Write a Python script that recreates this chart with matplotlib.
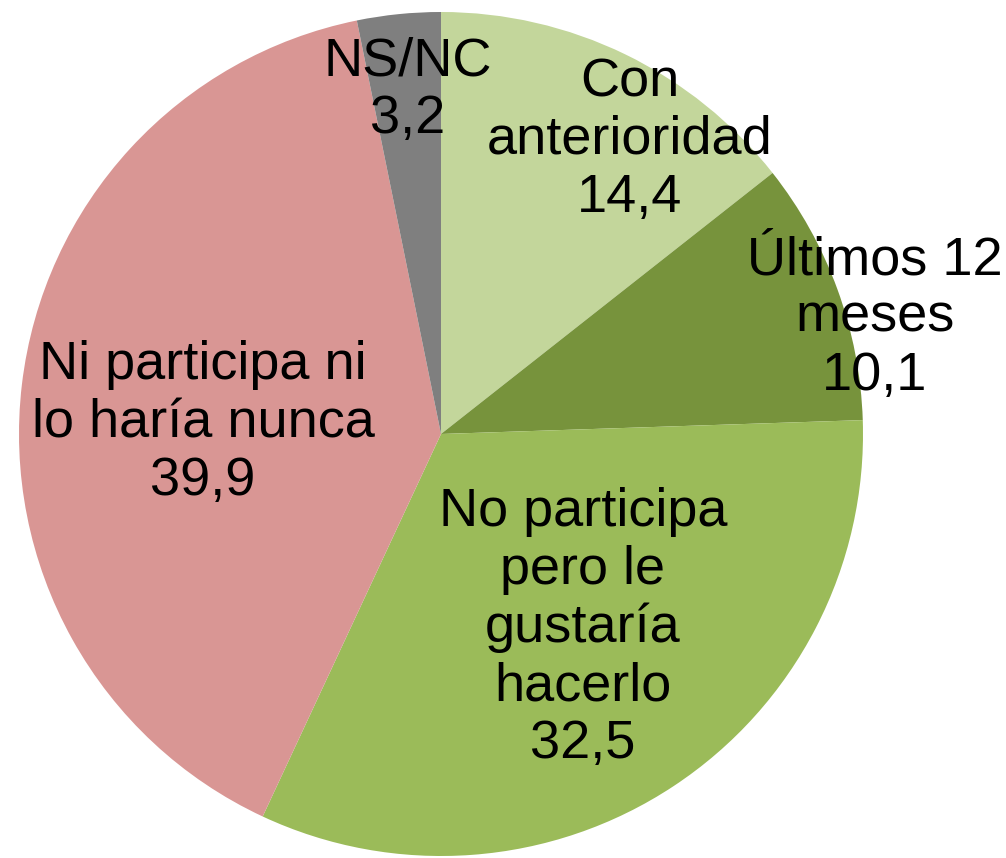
import matplotlib.pyplot as plt

plt.rcParams['font.family'] = ['Liberation Sans', 'DejaVu Sans']

labels = ["Con\nanterioridad", "Últimos 12\nmeses", "No participa\npero le\ngustaría\nhacerlo",
          "Ni participa ni\nlo haría nunca", "NS/NC"]
values = [14.4, 10.1, 32.5, 39.9, 3.2]
colors = ["#C3D69B", "#77933C", "#9BBB59", "#D99694", "#7F7F7F"]

# label centres (data coords, pie radius 1)
label_pos = [(0.448, 0.697), (1.028, 0.275), (0.336, -0.46), (-0.564, 0.026), (-0.078, 0.815)]

fig = plt.figure(figsize=(10.06, 8.58), dpi=100)
ax = fig.add_axes([19 / 1006, 2 / 858, 844 / 1006, 844 / 858])
ax.pie(values, colors=colors, startangle=90, counterclock=False, radius=1,
       wedgeprops=dict(linewidth=0))
ax.set_xlim(-1, 1)
ax.set_ylim(-1, 1)
ax.set_aspect('equal')
ax.axis('off')

for lab, v, (x, y) in zip(labels, values, label_pos):
    txt = lab + "\n" + f"{v:.1f}".replace(".", ",")
    ax.text(x, y, txt, ha='center', va='center', fontsize=39, linespacing=1.2,
            clip_on=False)

fig.savefig("out.png", dpi=100)
